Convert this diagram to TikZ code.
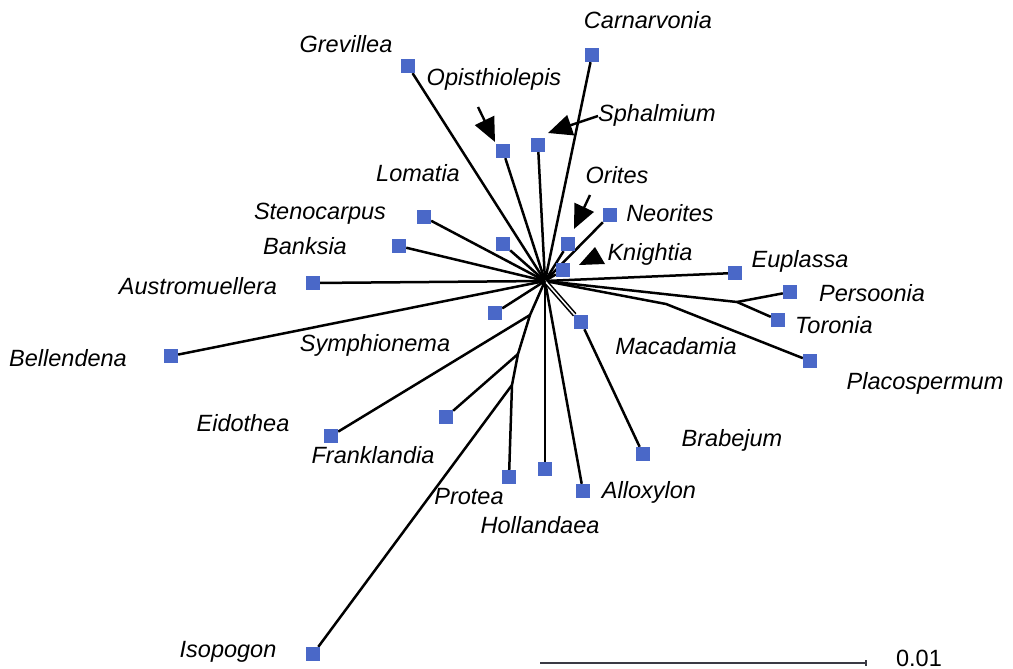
\documentclass[tikz,border=0pt]{standalone}
\usepackage{fontspec}
\setmainfont{Liberation Sans}
\usetikzlibrary{arrows.meta,backgrounds}

\definecolor{tipblue}{HTML}{4A68C8}
\definecolor{barline}{HTML}{3A3A44}

\begin{document}
\begin{tikzpicture}[x=1pt, y=-1pt,
    taxon/.style={rectangle, fill=tipblue, minimum size=14pt, inner sep=0pt},
    taxlbl/.style={font=\fontsize{23.5}{26}\selectfont\itshape, inner sep=0pt},
    scalelbl/.style={font=\fontsize{23.5}{26}\selectfont, inner sep=0pt},
    branch/.style={line width=2.5pt, black},
    pairbranch/.style={line width=1.6pt, black, double=white, double distance=1.5pt},
    pointer/.style={line width=2.4pt, black, -{Triangle[length=24pt, width=21pt]}},
]
\useasboundingbox (0,0) rectangle (1013,669);

% --- centre and internal splits ---
\coordinate (c)  at (545,281);
\coordinate (j1) at (737,302);
\coordinate (j2) at (666,304);
\coordinate (j3) at (530,315);
\coordinate (j4) at (518,354);
\coordinate (j5) at (512,385);

% --- taxa (squares) ---
\node[taxon] (grev) at (408,66)  {};
\node[taxon] (opis) at (503,151) {};
\node[taxon] (spha) at (538,145) {};
\node[taxon] (carn) at (592,55)  {};
\node[taxon] (loma) at (503,244) {};
\node[taxon] (sten) at (424,217) {};
\node[taxon] (bank) at (399,246) {};
\node[taxon] (aust) at (313,283) {};
\node[taxon] (neor) at (610,215) {};
\node[taxon] (orit) at (568,244) {};
\node[taxon] (knig) at (563,270) {};
\node[taxon] (eupl) at (735,273) {};
\node[taxon] (pers) at (790,292) {};
\node[taxon] (toro) at (778,320) {};
\node[taxon] (plac) at (810,361) {};
\node[taxon] (maca) at (581,322) {};
\node[taxon] (brab) at (643,454) {};
\node[taxon] (allo) at (583,491) {};
\node[taxon] (holl) at (545,469) {};
\node[taxon] (prot) at (509,477) {};
\node[taxon] (fran) at (446,417) {};
\node[taxon] (eido) at (331,436) {};
\node[taxon] (isop) at (313,654) {};
\node[taxon] (symp) at (495,313) {};
\node[taxon] (bell) at (171,356) {};

% --- branches ---
\begin{scope}[on background layer]
\foreach \t in {grev,opis,spha,carn,loma,sten,bank,aust,neor,orit,knig,eupl,allo,holl,symp,bell}
    \draw[branch] (c) -- (\t);
\draw[branch] (c) -- (j1);
\draw[branch] (j1) -- (pers);
\draw[branch] (j1) -- (toro);
\draw[branch] (c) -- (j2) -- (plac);
\draw[pairbranch] (c) -- (maca);
\draw[branch] (maca) -- (brab);
\draw[branch] (c) -- (j3) -- (j4) -- (j5) -- (prot);
\draw[branch] (j3) -- (eido);
\draw[branch] (j4) -- (fran);
\draw[branch] (j5) -- (isop);
\end{scope}

% --- names ---
\node[taxlbl] (grevl) at (346,44)  {Grevillea};
\node[taxlbl] (carnl) at (648,20)  {Carnarvonia};
\node[taxlbl] (opisl) at (494,79)  {Opisthiolepis};
\node[taxlbl] (sphal) at (657,115) {Sphalmium};
\node[taxlbl] (lomal) at (418,173) {Lomatia};
\node[taxlbl] (oritl) at (617,175) {Orites};
\node[taxlbl] (stenl) at (320,214) {Stenocarpus};
\node[taxlbl] (neorl) at (670,213) {Neorites};
\node[taxlbl] (bankl) at (305,246) {Banksia};
\node[taxlbl] (knigl) at (650,254) {Knightia};
\node[taxlbl] (eupll) at (800,261) {Euplassa};
\node[taxlbl] (austl) at (198,286) {Austromuellera};
\node[taxlbl] (persl) at (872,293) {Persoonia};
\node[taxlbl] (torol) at (834,325) {Toronia};
\node[taxlbl] (belll) at (68,358)  {Bellendena};
\node[taxlbl] (sympl) at (375,345) {Symphionema};
\node[taxlbl] (macal) at (676,346) {Macadamia};
\node[taxlbl] (placl) at (925,383) {Placospermum};
\node[taxlbl] (eidol) at (243,423) {Eidothea};
\node[taxlbl] (franl) at (373,455) {Franklandia};
\node[taxlbl] (brabl) at (732,440) {Brabejum};
\node[taxlbl] (protl) at (469,497) {Protea};
\node[taxlbl] (allol) at (649,492) {Alloxylon};
\node[taxlbl] (holll) at (540,525) {Hollandaea};
\node[taxlbl] (isopl) at (228,652) {Isopogon};

% --- pointers ---
\coordinate (opisA) at (478,107);
\coordinate (opisB) at (495,142);
\coordinate (sphaA) at (598,116);
\coordinate (sphaK) at (580,122);
\coordinate (sphaB) at (548,133);
\coordinate (oritA) at (590,195);
\coordinate (oritB) at (574,229);
\draw[pointer] (opisA) -- (opisB);
\draw[pointer] (sphaA) -- (sphaK) -- (sphaB);
\draw[pointer] (oritA) -- (oritB);
\fill (579,265) -- (605,264) -- (595,247) -- cycle;

% --- scale bar ---
\coordinate (sb0) at (540,663);
\coordinate (sb1) at (866,663);
\draw[barline, line width=2.2pt] (sb0) -- (sb1);
\draw[barline, line width=1.8pt] ([yshift=3pt]sb1) -- ([yshift=-3pt]sb1);
\node[scalelbl] (sbl) at (919,658) {0.01};

\end{tikzpicture}
\end{document}
